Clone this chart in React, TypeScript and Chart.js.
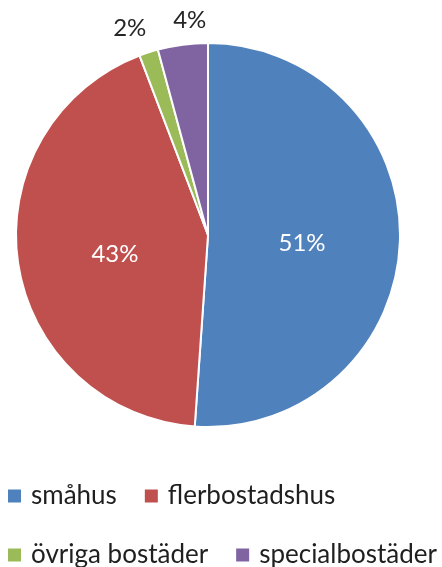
import React, { useEffect, useRef } from 'react';
import { Chart, registerables } from 'chart.js';
Chart.register(...registerables);

const categories = ['småhus', 'flerbostadshus', 'övriga bostäder', 'specialbostäder'];
const shares = [51.1, 43.1, 1.6, 4.2];
const colors = ['#4F81BD', '#C0504D', '#9BBB59', '#8064A2'];
const legendRows = [[0, 1], [2, 3]];

const FONT = 'Lato, "Open Sans", sans-serif';

const labelPlugin = {
  id: 'pctLabels',
  afterDatasetsDraw(chart: any) {
    const ctx = chart.ctx;
    const meta = chart.getDatasetMeta(0);
    const data = chart.data.datasets[0].data as number[];
    const total = data.reduce((a, b) => a + b, 0);
    ctx.save();
    ctx.font = `24px ${FONT}`;
    ctx.textAlign = 'center';
    ctx.textBaseline = 'middle';
    const outside: { x: number; y: number; txt: string }[] = [];
    meta.data.forEach((arc: any, i: number) => {
      const { x, y, startAngle, endAngle, outerRadius } = arc.getProps(
        ['x', 'y', 'startAngle', 'endAngle', 'outerRadius'], true);
      const mid = (startAngle + endAngle) / 2;
      const pct = (data[i] / total) * 100;
      const txt = Math.round(pct) + '%';
      if (pct >= 10) {
        const r = outerRadius * 0.49;
        ctx.fillStyle = '#ffffff';
        ctx.fillText(txt, x + Math.cos(mid) * r, y + Math.sin(mid) * r + 5);
      } else {
        const r = outerRadius + 27;
        outside.push({ x: x + Math.cos(mid) * r, y: y + Math.sin(mid) * r, txt });
      }
    });
    // spread overlapping outside labels apart horizontally
    outside.sort((a, b) => a.x - b.x);
    const minSep = 60;
    for (let k = 1; k < outside.length; k++) {
      const a = outside[k - 1];
      const b = outside[k];
      const gap = b.x - a.x;
      if (gap < minSep) {
        const push = (minSep - gap) / 2;
        a.x -= push;
        b.x += push;
      }
    }
    ctx.fillStyle = '#262626';
    outside.forEach((l) => ctx.fillText(l.txt, l.x, l.y + 2));
    ctx.restore();
  },
};

const legendPlugin = {
  id: 'rowLegend',
  afterDraw(chart: any) {
    const ctx = chart.ctx;
    const area = chart.chartArea;
    ctx.save();
    ctx.font = `26px ${FONT}`;
    ctx.textBaseline = 'middle';
    ctx.textAlign = 'left';
    legendRows.forEach((row, ri) => {
      const cy = area.bottom + 68 + ri * 59;
      let x = 8;
      row.forEach((idx) => {
        ctx.fillStyle = colors[idx];
        ctx.fillRect(x, cy - 6.5, 13, 13);
        x += 13 + 10;
        ctx.fillStyle = '#1f1f1f';
        ctx.fillText(categories[idx], x, cy);
        x += ctx.measureText(categories[idx]).width + 28;
      });
    });
    ctx.restore();
  },
};

export default function App() {
  const ref = useRef<HTMLCanvasElement | null>(null);
  useEffect(() => {
    if (!ref.current) return;
    const chart = new Chart(ref.current, {
      type: 'pie',
      data: {
        labels: categories,
        datasets: [
          {
            data: shares,
            backgroundColor: colors,
            borderColor: '#ffffff',
            borderWidth: 2,
          },
        ],
      },
      options: {
        responsive: false,
        animation: false,
        layout: { padding: { left: 15, right: 41, top: 42, bottom: 139 } },
        plugins: {
          legend: { display: false },
          tooltip: { enabled: false },
        },
      },
      plugins: [labelPlugin, legendPlugin],
    });
    return () => chart.destroy();
  }, []);
  return (
    <div style={{ position: 'fixed', left: 0, top: 0, width: 442, height: 567, background: '#fff' }}>
      <canvas ref={ref} width={442} height={567} style={{ display: 'block' }} />
    </div>
  );
}
